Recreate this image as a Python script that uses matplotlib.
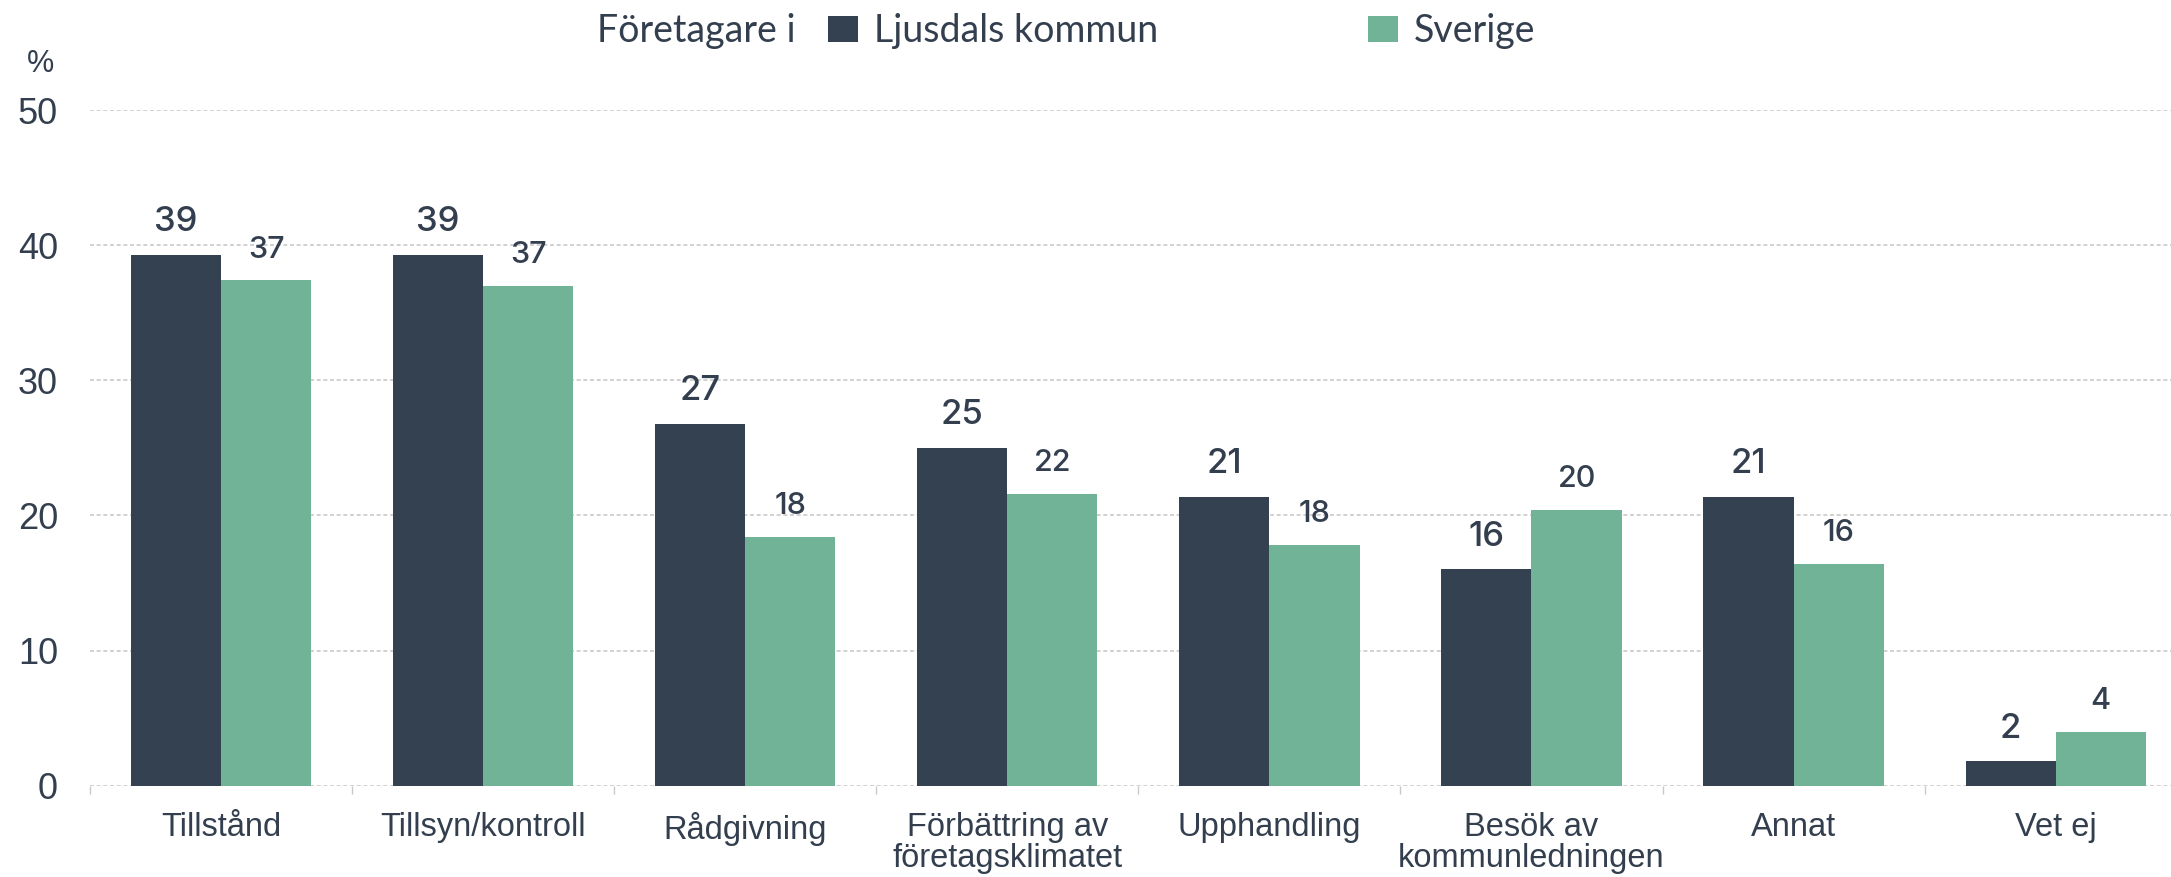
import matplotlib
matplotlib.use("Agg")
import matplotlib.pyplot as plt
from matplotlib.ticker import FixedLocator
import numpy as np

categories = ["Tillstånd", "Tillsyn/kontroll", "Rådgivning",
              "Förbättring av\nföretagsklimatet", "Upphandling",
              "Besök av\nkommunledningen", "Annat", "Vet ej"]
ljusdal = [39.3, 39.3, 26.8, 25.0, 21.4, 16.0, 21.4, 1.8]
sverige = [37.4, 37.0, 18.4, 21.6, 17.8, 20.4, 16.4, 4.0]
series_names = ["Ljusdals kommun", "Sverige"]
legend_title = "Företagare i"
yticks = [0, 10, 20, 30, 40, 50]
unit_label = "%"

DARK = "#344150"
GREEN = "#70b396"
TEXT = "#333f4e"
GRID = "#c9c9c9"

W, H = 2171, 877
fig = plt.figure(figsize=(W / 100, H / 100), dpi=100)
ax = fig.add_axes([90 / W, 1 - 785.7 / H, 1 - 90 / W, (785.7 - 110) / H])

x = np.arange(len(categories))
bw = 0.344
b1 = ax.bar(x - bw / 2, ljusdal, bw, color=DARK, zorder=3, label=series_names[0])
b2 = ax.bar(x + bw / 2, sverige, bw, color=GREEN, zorder=3, label=series_names[1])

for rect, v in zip(b1, ljusdal):
    ax.annotate(f"{v:.0f}", (rect.get_x() + rect.get_width() / 2, rect.get_height()),
                xytext=(0, 12), textcoords="offset points", ha="center", va="bottom",
                fontsize=25, family="Inter", fontweight=500, color=TEXT, zorder=5)
for rect, v in zip(b2, sverige):
    ax.annotate(f"{v:.0f}", (rect.get_x() + rect.get_width() / 2, rect.get_height()),
                xytext=(0, 12), textcoords="offset points", ha="center", va="bottom",
                fontsize=22, family="Inter", fontweight=500, color=TEXT, zorder=5)

ax.set_xlim(-0.5, 7.44)
ax.set_ylim(0, 50)
ax.set_yticks(yticks)
ax.set_yticklabels([str(t) for t in yticks], fontsize=26, family="Liberation Sans", color=TEXT)
ax.tick_params(axis="y", length=0, pad=23)
ax.set_xticks(x)
ax.set_xticklabels(categories, fontsize=23.5, family="Liberation Sans", color=TEXT, linespacing=1.0)
ax.tick_params(axis="x", which="major", length=0, pad=19)
ax.xaxis.set_minor_locator(FixedLocator(np.arange(-0.5, len(categories), 1.0)))
ax.tick_params(axis="x", which="minor", length=6, width=1, color=GRID)

ax.grid(axis="y", color=GRID, linestyle=(0, (2.4, 1.6)), linewidth=1.2, zorder=0)
for s in ax.spines.values():
    s.set_visible(False)

fig.text(27 / W, 1 - 72 / H, unit_label, fontsize=22, family="Liberation Sans", color=TEXT, va="baseline")
fig.text(597 / W, 1 - 42 / H, legend_title, fontsize=27, family="Lato", color=TEXT, va="baseline")
leg = fig.legend(handles=[b1, b2], labels=series_names, loc="center left",
                 bbox_to_anchor=(828 / W, 1 - 31 / H), ncol=2, frameon=False,
                 prop={"family": "Lato", "size": 27}, labelcolor=TEXT,
                 handlelength=0.8, handleheight=0.7, handletextpad=0.42,
                 columnspacing=5.6, borderpad=0, borderaxespad=0)

fig.savefig("out.png", dpi=100)
